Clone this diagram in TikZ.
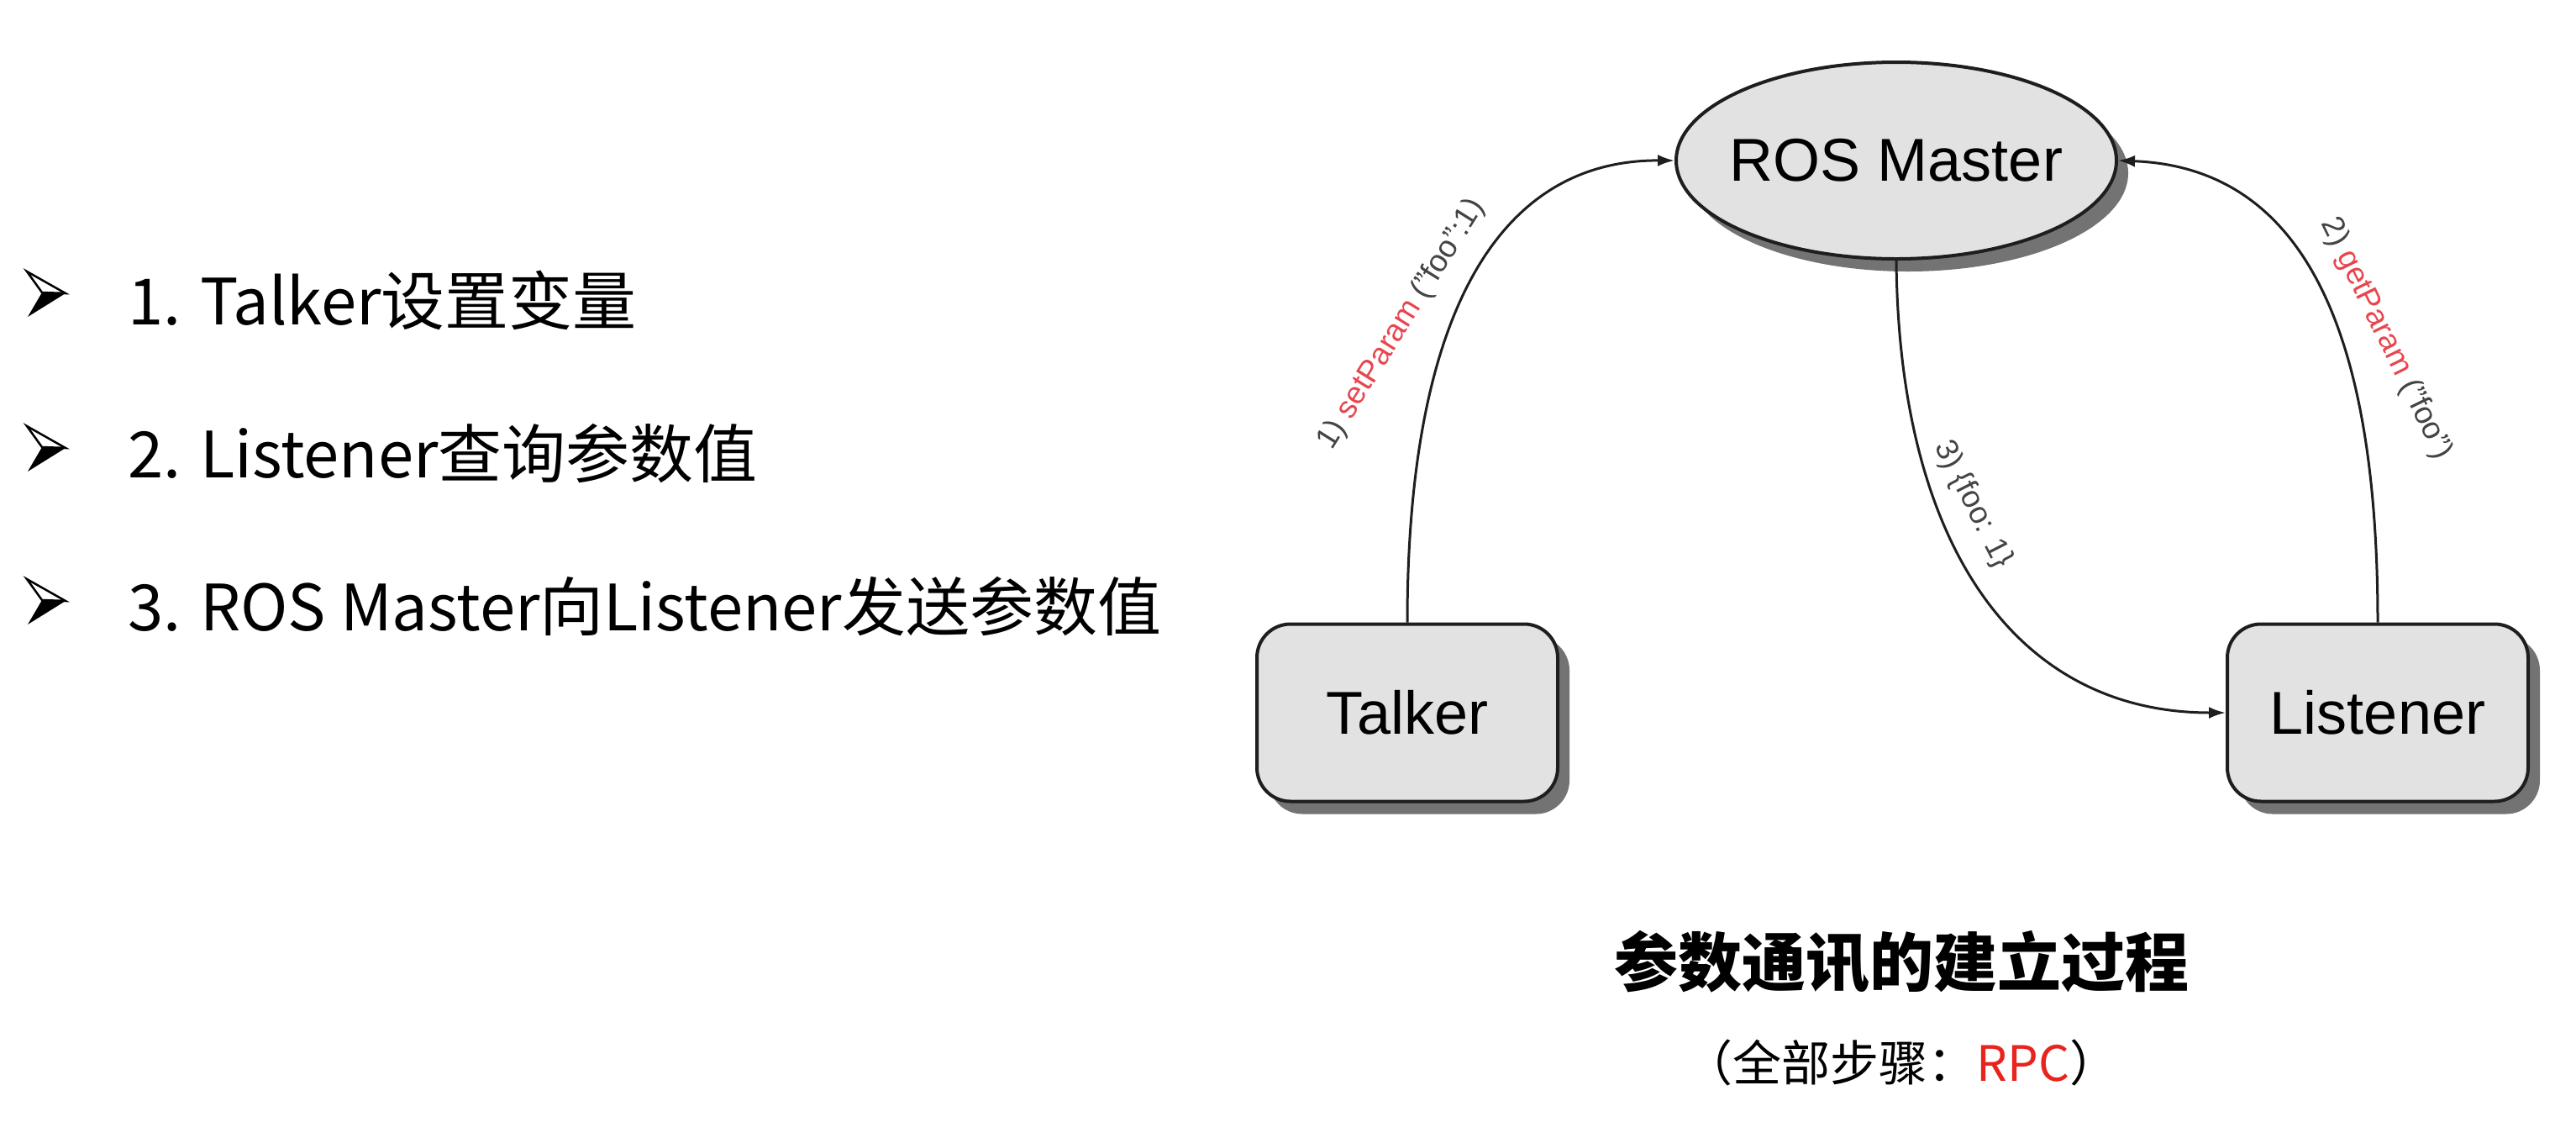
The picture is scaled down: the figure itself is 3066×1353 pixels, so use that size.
\documentclass[tikz,border=0pt]{standalone}
\usepackage{fontspec}
\setmainfont{Liberation Sans}
\newfontfamily\cjk{Noto Sans CJK SC}
\usetikzlibrary{shapes.geometric,shadows,arrows.meta}
\definecolor{boxfill}{HTML}{E2E2E2}
\definecolor{edgecol}{HTML}{1E1E1E}
\definecolor{labgray}{HTML}{444444}
\definecolor{labred}{HTML}{E8464F}
\definecolor{rpcred}{HTML}{E8241E}
\begin{document}
\begin{tikzpicture}[x=1pt,y=-1pt,
  rosnode/.style={draw=edgecol, line width=4pt, fill=boxfill,
    drop shadow={shadow xshift=14pt, shadow yshift=-15pt, fill=black!55, opacity=1}},
  boxnode/.style={rosnode, rectangle, rounded corners=40pt, minimum width=358pt,
    minimum height=211pt, inner sep=0pt, font=\fontsize{72}{80}\selectfont},
  conn/.style={draw=edgecol, line width=3pt, -{Latex[length=20pt,width=14pt]}},
  edgelab/.style={inner sep=0pt, text=labgray, font=\fontsize{37}{40}\selectfont},
  bullettext/.style={anchor=base west, inner sep=0pt, font=\cjk\fontsize{76}{88}\selectfont},
  bulletmark/.pic={
    \draw[line width=2.5pt, line join=miter, fill=white] (-23,-27) -- (23,-1) -- (-5,-2) -- cycle;
    \fill (-5,-2) -- (23,-1) -- (-22,27) -- cycle;
  }
]
\useasboundingbox (0,0) rectangle (3066,1353);

% bullet list
\pic at (55,350) {bulletmark};
\pic at (55,534) {bulletmark};
\pic at (55,716) {bulletmark};
\node[bullettext] (b1) at (152,386) {1. Talker设置变量};
\node[bullettext] (b2) at (152,568) {2. Listener查询参数值};
\node[bullettext] (b3) at (152,750) {3. ROS Master向Listener发送参数值};

% diagram nodes
\node[rosnode, ellipse, minimum width=524pt, minimum height=234pt, inner sep=0pt,
      font=\fontsize{72}{80}\selectfont] (master) at (2257,191) {\makebox[0pt]{ROS Master}};
\node[boxnode] (talker) at (1675,848) {Talker};
\node[boxnode] (listener) at (2830,848) {Listener};

% connectors
\draw[conn] (talker.north) .. controls (1675,380) and (1780,190) .. (master.west);
\draw[conn] (listener.north) .. controls (2830,430) and (2760,200) .. (master.east);
\draw[conn] (master.south) .. controls (2260,650) and (2400,848) .. (listener.west);

% connector labels
\node[edgelab, rotate=58] (lab1) at (1668,386) {1) {\color{labred}setParam} ("foo":1)};
\node[edgelab, rotate=-64] (lab2) at (2840,403) {2) {\color{labred}getParam} ("foo")};
\node[edgelab, rotate=-63] (lab3) at (2348,600) {3) \{foo: 1\}};

% caption
\node[inner sep=0pt, font=\cjk\bfseries\fontsize{76}{90}\selectfont] (title) at (2263,1145) {参数通讯的建立过程};
\node[inner sep=0pt, font=\cjk\fontsize{58}{70}\selectfont] (sub) at (2263,1264) {（全部步骤：{\color{rpcred}RPC}）};
\end{tikzpicture}
\end{document}
